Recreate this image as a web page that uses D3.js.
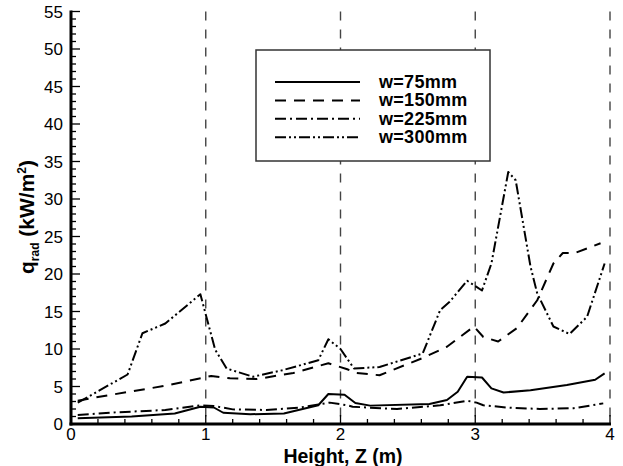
<!DOCTYPE html>
<html><head><meta charset="utf-8">
<script src="https://cdn.jsdelivr.net/npm/d3@7"></script>
<style>body{margin:0;background:#fff}svg{display:block}text{font-family:"Liberation Sans",Arial,sans-serif}</style>
</head><body>
<svg id="c" width="623" height="466"></svg>
<script>
const seriesNames = ["w=75mm","w=150mm","w=225mm","w=300mm"];
const z75 = [0.05,0.45,0.77,0.96,1.06,1.13,1.33,1.58,1.835,1.91,2.03,2.11,2.22,2.66,2.79,2.87,2.94,3.05,3.12,3.21,3.41,3.68,3.89,3.96];
const q75 = [0.76,1.0,1.4,2.3,2.2,1.5,1.3,1.4,2.5,4.0,3.9,2.8,2.45,2.67,3.2,4.3,6.3,6.2,4.75,4.2,4.5,5.2,5.9,6.75];
const z150 = [0.05,0.2,0.7,1.04,1.18,1.38,1.65,1.91,2.05,2.12,2.29,2.61,2.79,2.99,3.06,3.17,3.31,3.46,3.58,3.65,3.74,3.93];
const q150 = [3.1,3.6,5.1,6.4,6.1,6.0,6.8,8.1,7.3,6.8,6.5,8.8,10.3,13.0,11.6,11.0,12.8,16.5,21.4,22.8,22.8,24.1];
const z225 = [0.05,0.33,0.7,0.96,1.06,1.2,1.45,1.7,1.92,2.05,2.09,2.42,2.74,2.94,3.01,3.06,3.23,3.48,3.73,3.95];
const q225 = [1.2,1.55,1.87,2.5,2.4,1.95,1.87,2.2,2.85,2.5,2.3,2.0,2.5,3.1,2.85,2.5,2.2,2.0,2.1,2.75];
const z300 = [0.05,0.42,0.53,0.70,0.96,1.07,1.155,1.35,1.576,1.835,1.91,2.0,2.1,2.29,2.61,2.74,2.81,2.94,3.05,3.12,3.245,3.30,3.41,3.46,3.58,3.70,3.83,3.96];
const q300 = [2.84,6.6,12.1,13.4,17.3,9.9,7.4,6.3,7.2,8.5,11.3,10.0,7.4,7.6,9.4,15.2,16.3,19.1,17.8,21.4,33.6,32.5,21.0,17.4,13.0,12.0,14.3,21.4];
const xTicks = [0,1,2,3,4];
const yTicks = [0,5,10,15,20,25,30,35,40,45,50,55];
const vLines = [1,2,3,4];

const zs = [z75,z150,z225,z300], qs = [q75,q150,q225,q300];
const dashes = [null,"11,8","11,4,2,4","11,3,2,3,2,3"];

const svg = d3.select("#c");
const L = 71, R = 610, T = 11.5, B = 424;
const x = d3.scaleLinear().domain([0,4]).range([L,R]);
const y = d3.scaleLinear().domain([0,55]).range([B,T]);

svg.selectAll(".vl").data(vLines).enter().append("line")
  .attr("x1",d=>x(d)).attr("x2",d=>x(d)).attr("y1",T).attr("y2",B)
  .attr("stroke","#444").attr("stroke-width",1.4).attr("stroke-dasharray","9,9");

const g = svg.append("g");
d3.range(0,4.001,0.2).forEach(v=>{
  g.append("line").attr("x1",x(v)).attr("x2",x(v)).attr("y1",B).attr("y2",B-(Math.abs(v-Math.round(v))<1e-6?9:5)).attr("stroke","#000").attr("stroke-width",1.3);
});
d3.range(0,55.001,1).forEach(v=>{
  g.append("line").attr("y1",y(v)).attr("y2",y(v)).attr("x1",L).attr("x2",L+(v%5===0?9:5)).attr("stroke","#000").attr("stroke-width",1.3);
});

svg.append("line").attr("x1",L).attr("x2",L).attr("y1",T-1).attr("y2",B+1.5).attr("stroke","#000").attr("stroke-width",3);
svg.append("line").attr("x1",L-1.5).attr("x2",R+1).attr("y1",B).attr("y2",B).attr("stroke","#000").attr("stroke-width",3);

svg.selectAll(".xl").data(xTicks).enter().append("text")
  .attr("x",d=>x(d)).attr("y",B+16).attr("text-anchor","middle").attr("font-size",17).text(d=>d);
svg.selectAll(".yl").data(yTicks).enter().append("text")
  .attr("x",L-8).attr("y",d=>y(d)+6).attr("text-anchor","end").attr("font-size",17).text(d=>d);

const line = d3.line().x(d=>x(d[0])).y(d=>y(d[1]));
zs.forEach((zz,i)=>{
  const pts = zz.map((v,j)=>[v,qs[i][j]]);
  svg.append("path").attr("d",line(pts)).attr("fill","none").attr("stroke","#000")
    .attr("stroke-width",2).attr("stroke-linejoin","round")
    .attr("stroke-dasharray",dashes[i]);
});

svg.append("rect").attr("x",256).attr("y",50).attr("width",234).attr("height",111)
  .attr("fill","#fff").attr("stroke","#333").attr("stroke-width",1.5);
seriesNames.forEach((n,i)=>{
  const yy = 82 + i*18.4;
  svg.append("line").attr("x1",275).attr("x2",360).attr("y1",yy).attr("y2",yy)
    .attr("stroke","#000").attr("stroke-width",2).attr("stroke-dasharray",dashes[i]);
  svg.append("text").attr("x",379).attr("y",yy+6).attr("font-size",18).attr("font-weight","bold")
    .attr("letter-spacing",0.3).text(n);
});

svg.append("text").attr("x",343).attr("y",463).attr("text-anchor","middle")
  .attr("font-size",19.5).attr("font-weight","bold").text("Height, Z (m)");
const yt = svg.append("text").attr("transform","translate(34,217) rotate(-90)")
  .attr("text-anchor","middle").attr("font-size",21).attr("font-weight","bold");
yt.append("tspan").text("q");
yt.append("tspan").attr("font-size",12).attr("dy",5).text("rad");
yt.append("tspan").attr("dy",-5).text(" (kW/m");
yt.append("tspan").attr("font-size",12).attr("dy",-8).text("2");
yt.append("tspan").attr("dy",8).text(")");
</script>
</body></html>
